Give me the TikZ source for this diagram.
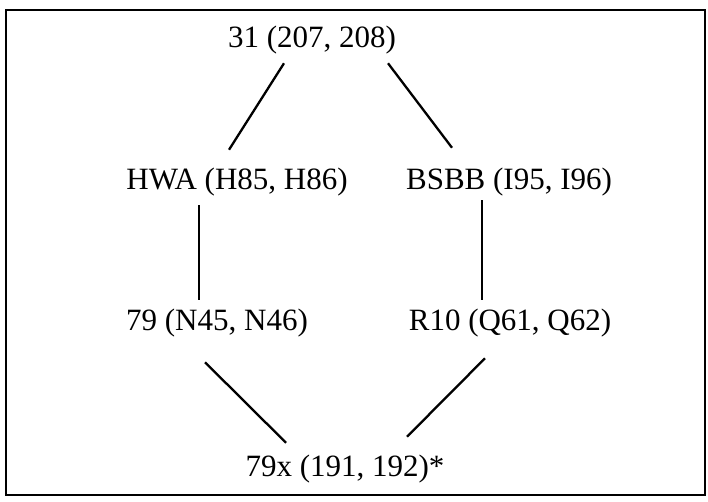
\documentclass[tikz,border=0pt]{standalone}
\usepackage{fontspec}
\setmainfont{Liberation Serif}
\usetikzlibrary{positioning}

\begin{document}
\begin{tikzpicture}[x=1pt,y=-1pt,
  lbl/.style={inner sep=3pt,font=\fontsize{31}{37}\selectfont},
  link/.style={line width=2.3pt}]

  \useasboundingbox (0,0) rectangle (708,501);

  % frame
  \draw[line width=2pt] (6,10) rectangle (705,495);

  % labels
  \node[lbl] (top)  at (312,40)  {31 (207, 208)};
  \node[lbl] (hwa)  at (237,182) {HWA (H85, H86)};
  \node[lbl] (bsbb) at (509,182) {BSBB (I95, I96)};
  \node[lbl] (n79)  at (217,323) {79 (N45, N46)};
  \node[lbl] (r10)  at (510,323) {R10 (Q61, Q62)};
  \node[lbl] (bot)  at (345,469) {79x (191, 192)*};

  % links
  \draw[link] ([xshift=-28pt,yshift=-6pt]top.south) -- ([xshift=-8pt,yshift=15pt]hwa.north);
  \draw[link] ([xshift=76pt,yshift=-6pt]top.south) -- ([xshift=-57pt,yshift=17pt]bsbb.north);
  \draw[link] ([xshift=-38pt,yshift=-6pt]hwa.south) -- ([xshift=-18pt,yshift=6pt]n79.north);
  \draw[link] ([xshift=-27pt,yshift=-1pt]bsbb.south) -- ([xshift=-28pt,yshift=6pt]r10.north);
  \draw[link] ([xshift=-12pt,yshift=-22pt]n79.south) -- ([xshift=-59pt,yshift=9pt]bot.north);
  \draw[link] ([xshift=-25pt,yshift=-18pt]r10.south) -- ([xshift=62pt,yshift=15pt]bot.north);

\end{tikzpicture}
\end{document}
